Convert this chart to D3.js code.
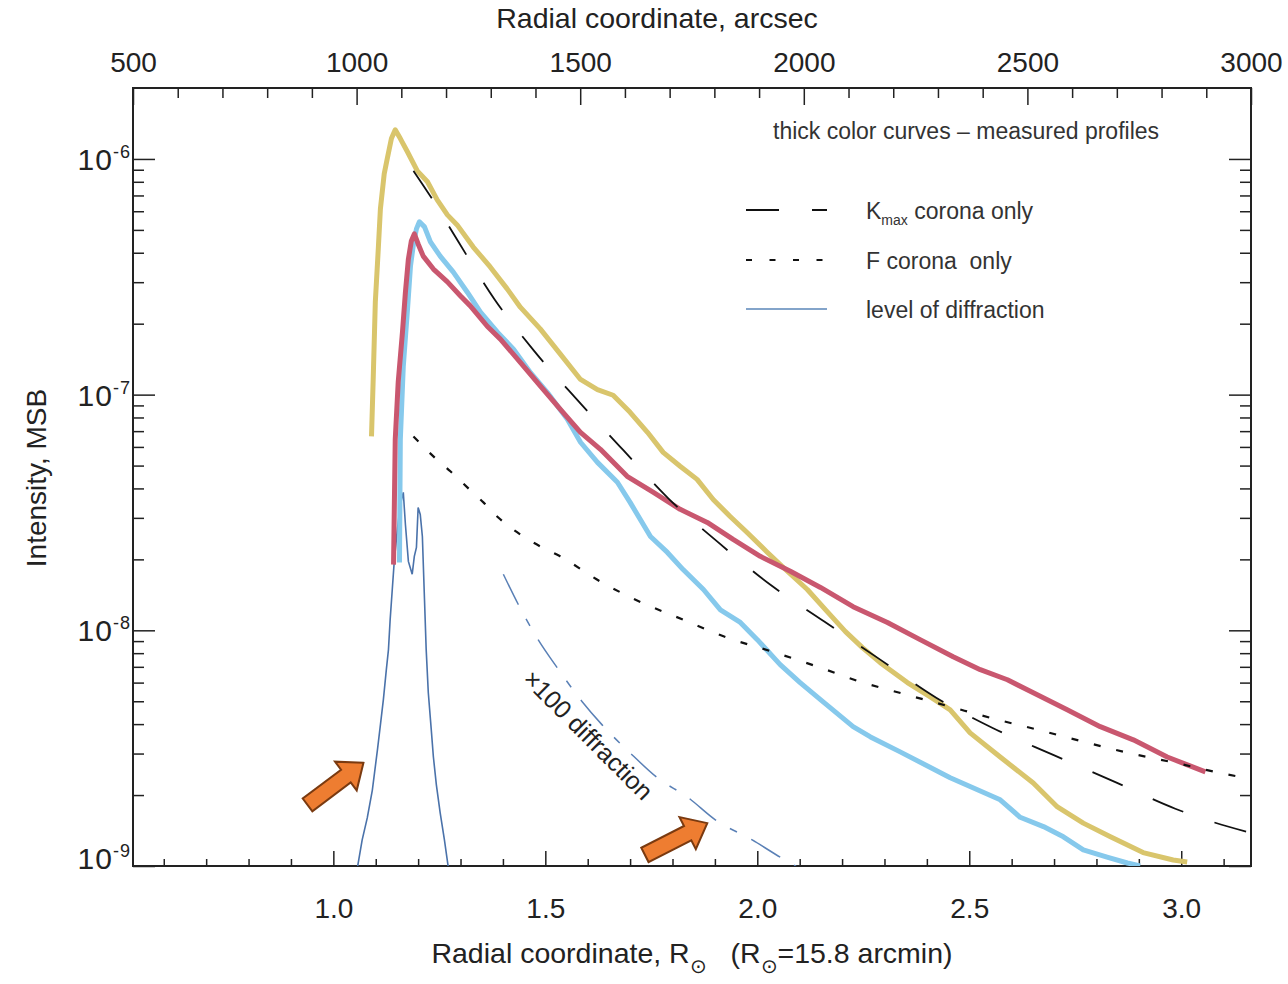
<!DOCTYPE html>
<html>
<head>
<meta charset="utf-8">
<script src="https://d3js.org/d3.v7.min.js"></script>
<style>
html,body{margin:0;padding:0;background:#fff;}
svg text{font-family:"Liberation Sans",Arial,Helvetica,sans-serif;}
</style>
</head>
<body>
<svg id="chart" width="1288" height="984"></svg>
<script>
// ---------------- data ----------------
const arcsecRange = [500, 3000];
const rsunArcsec = 948;             // R_sun = 15.8 arcmin
const intensityRange = [1e-9, 2e-6];
const topTickLabels = [500, 1000, 1500, 2000, 2500, 3000];
const bottomTickLabels = [1.0, 1.5, 2.0, 2.5, 3.0];
const yTickValues = [1e-9, 1e-8, 1e-7, 1e-6];
const yTickExponents = ["-9", "-8", "-7", "-6"];

// measured profiles (thick colour curves)
const yellowR = [1.090,1.094,1.099,1.106,1.111,1.120,1.127,1.137,1.146,1.158,1.175,1.198,1.222,1.245,1.269,1.292,1.330,1.370,1.410,1.441,1.488,1.535,1.583,1.623,1.660,1.700,1.741,1.778,1.818,1.858,1.896,1.936,1.976,2.024,2.071,2.118,2.165,2.208,2.248,2.290,2.354,2.408,2.455,2.502,2.573,2.651,2.708,2.769,2.833,2.910,2.981,3.014];
const yellowI = [6.65e-8,1.16e-7,2.47e-7,4.15e-7,6.14e-7,8.65e-7,1.00e-6,1.22e-6,1.33e-6,1.22e-6,1.07e-6,8.90e-7,8.00e-7,6.70e-7,5.79e-7,5.25e-7,4.23e-7,3.48e-7,2.81e-7,2.35e-7,1.90e-7,1.49e-7,1.16e-7,1.05e-7,9.94e-8,8.41e-8,6.92e-8,5.69e-8,4.97e-8,4.37e-8,3.59e-8,3.04e-8,2.60e-8,2.14e-8,1.78e-8,1.49e-8,1.20e-8,9.87e-9,8.44e-9,7.29e-9,6.00e-9,5.22e-9,4.60e-9,3.67e-9,2.90e-9,2.25e-9,1.78e-9,1.52e-9,1.33e-9,1.14e-9,1.06e-9,1.04e-9];

const redR = [1.142,1.146,1.153,1.163,1.170,1.177,1.184,1.191,1.200,1.212,1.236,1.269,1.300,1.323,1.363,1.394,1.441,1.488,1.535,1.583,1.630,1.693,1.755,1.818,1.882,1.943,2.007,2.078,2.149,2.226,2.307,2.384,2.462,2.526,2.590,2.651,2.731,2.809,2.887,2.967,3.057];
const redI = [1.90e-8,6.46e-8,1.13e-7,1.84e-7,2.72e-7,3.76e-7,4.49e-7,4.81e-7,4.36e-7,3.87e-7,3.41e-7,3.01e-7,2.62e-7,2.38e-7,1.95e-7,1.72e-7,1.37e-7,1.09e-7,8.67e-8,6.92e-8,5.86e-8,4.50e-8,3.85e-8,3.26e-8,2.87e-8,2.43e-8,2.06e-8,1.78e-8,1.52e-8,1.26e-8,1.08e-8,9.13e-9,7.73e-9,6.81e-9,6.17e-9,5.43e-9,4.60e-9,3.90e-9,3.43e-9,2.90e-9,2.51e-9];

const blueR = [1.156,1.158,1.165,1.175,1.182,1.189,1.196,1.203,1.215,1.229,1.252,1.283,1.316,1.347,1.387,1.425,1.465,1.505,1.552,1.583,1.623,1.670,1.700,1.748,1.788,1.825,1.873,1.913,1.960,2.000,2.054,2.101,2.149,2.226,2.267,2.337,2.455,2.573,2.620,2.675,2.722,2.769,2.825,2.873,2.903];
const blueI = [1.94e-8,6.46e-8,1.32e-7,2.31e-7,3.52e-7,4.36e-7,5.05e-7,5.41e-7,5.15e-7,4.45e-7,3.87e-7,3.31e-7,2.72e-7,2.24e-7,1.84e-7,1.56e-7,1.24e-7,1.02e-7,7.86e-8,6.28e-8,5.16e-8,4.25e-8,3.49e-8,2.50e-8,2.14e-8,1.81e-8,1.49e-8,1.22e-8,1.08e-8,9.13e-9,7.15e-9,6.00e-9,5.08e-9,3.90e-9,3.53e-9,3.05e-9,2.37e-9,1.91e-9,1.61e-9,1.47e-9,1.33e-9,1.17e-9,1.09e-9,1.03e-9,1.00e-9];

// level of diffraction
const diffR = [1.057,1.068,1.080,1.092,1.104,1.111,1.118,1.125,1.130,1.134,1.139,1.144,1.151,1.158,1.165,1.170,1.177,1.186,1.191,1.196,1.200,1.205,1.210,1.215,1.219,1.224,1.231,1.236,1.243,1.252,1.262,1.271];
const diffI = [9.9e-10,1.29e-9,1.60e-9,2.10e-9,3.11e-9,3.97e-9,5.08e-9,6.81e-9,8.28e-9,1.11e-8,1.49e-8,2.00e-8,2.68e-8,3.42e-8,3.85e-8,2.81e-8,1.96e-8,1.73e-8,2.06e-8,2.25e-8,3.32e-8,3.10e-8,2.50e-8,1.35e-8,8.28e-9,5.43e-9,3.78e-9,2.90e-9,2.21e-9,1.68e-9,1.29e-9,9.9e-10];

// x100 diffraction
const diff100R = [1.401,1.436,1.483,1.528,1.587,1.634,1.705,1.764,1.837,1.901,1.988,2.054,2.094];
const diff100I = [1.73e-8,1.29e-8,9.13e-9,6.94e-9,4.98e-9,3.97e-9,2.96e-9,2.37e-9,1.95e-9,1.57e-9,1.29e-9,1.09e-9,9.9e-10];

// Kmax corona only
const kR = [1.189,1.233,1.295,1.380,1.474,1.578,1.684,1.790,1.908,2.031,2.158,2.290,2.422,2.554,2.698,2.842,2.986,3.045,3.165];
const kI = [8.90e-7,6.77e-7,4.45e-7,2.54e-7,1.53e-7,9.38e-8,5.81e-8,3.63e-8,2.36e-8,1.56e-8,1.09e-8,7.51e-9,5.18e-9,3.86e-9,2.96e-9,2.28e-9,1.75e-9,1.60e-9,1.38e-9];

// F corona only
const fR = [1.189,1.236,1.276,1.316,1.354,1.389,1.441,1.488,1.535,1.630,1.724,1.825,1.929,2.035,2.142,2.243,2.344,2.455,2.557,2.663,2.769,2.875,2.986,3.092,3.165];
const fI = [6.65e-8,5.47e-8,4.73e-8,4.04e-8,3.49e-8,3.01e-8,2.55e-8,2.27e-8,2.06e-8,1.61e-8,1.32e-8,1.11e-8,9.31e-9,8.12e-9,7.01e-9,6.05e-9,5.38e-9,4.74e-9,4.22e-9,3.78e-9,3.37e-9,3.02e-9,2.74e-9,2.48e-9,2.34e-9];

// annotation arrows: tip position (R, I) + direction (deg)
const arrowTipR = [1.071, 1.882];
const arrowTipI = [2.74e-9, 1.52e-9];
const arrowAngle = [-37, -27];

// ---------------- drawing ----------------
const svg = d3.select("#chart");
const L = 133, R = 1251, T = 88, B = 866;
const FONT = '"Liberation Sans",Arial,Helvetica,sans-serif';
const AX = "#222";

const x = d3.scaleLinear().domain([arcsecRange[0]/rsunArcsec, arcsecRange[1]/rsunArcsec]).range([L, R]);
const xTop = d3.scaleLinear().domain(arcsecRange).range([L, R]);
const y = d3.scaleLog().domain(intensityRange).range([B, T]);

svg.append("rect").attr("width",1288).attr("height",984).attr("fill","#fff");

svg.append("defs").append("clipPath").attr("id","plotClip")
  .append("rect").attr("x",L).attr("y",T).attr("width",R-L).attr("height",B-T);

function styleAxis(g, fs){
  g.select(".domain").remove();
  g.selectAll(".tick line").attr("stroke",AX).attr("stroke-width",1.5);
  g.selectAll(".tick text").attr("fill",AX).style("font-size",fs+"px").style("font-family",FONT);
}

// top axis (arcsec)
const topMinor = d3.range(600, 3000, 100).filter(v => v % 500 !== 0);
svg.append("g").attr("transform",`translate(0,${T})`)
  .call(d3.axisTop(xTop).tickValues(topTickLabels).tickSize(-17).tickPadding(16).tickFormat(d3.format("d")))
  .call(g => styleAxis(g, 28));
svg.append("g").attr("transform",`translate(0,${T})`)
  .call(d3.axisTop(xTop).tickValues(topMinor).tickSize(-10).tickFormat(""))
  .call(g => styleAxis(g, 28));

// bottom axis (R_sun)
const botMinor = d3.range(6, 32).map(v => v/10).filter(v => Math.round(v*10) % 5 !== 0);
svg.append("g").attr("transform",`translate(0,${B})`)
  .call(d3.axisBottom(x).tickValues(bottomTickLabels).tickSize(-15).tickPadding(32).tickFormat(d3.format(".1f")))
  .call(g => styleAxis(g, 28));
svg.append("g").attr("transform",`translate(0,${B})`)
  .call(d3.axisBottom(x).tickValues(botMinor).tickSize(-7).tickFormat(""))
  .call(g => styleAxis(g, 28));

// y axes (log)
const yMinor = [];
[-9,-8,-7,-6].forEach(e => { for (let m = 2; m <= 9; m++){ const v = m*Math.pow(10,e); if (v < intensityRange[1]*0.99) yMinor.push(v);} });
svg.append("g").attr("transform",`translate(${L},0)`)
  .call(d3.axisLeft(y).tickValues(yTickValues).tickSize(-22).tickFormat(""))
  .call(g => styleAxis(g, 28));
svg.append("g").attr("transform",`translate(${L},0)`)
  .call(d3.axisLeft(y).tickValues(yMinor).tickSize(-11).tickFormat(""))
  .call(g => styleAxis(g, 28));
svg.append("g").attr("transform",`translate(${R},0)`)
  .call(d3.axisRight(y).tickValues(yTickValues).tickSize(-22).tickFormat(""))
  .call(g => styleAxis(g, 28));
svg.append("g").attr("transform",`translate(${R},0)`)
  .call(d3.axisRight(y).tickValues(yMinor).tickSize(-11).tickFormat(""))
  .call(g => styleAxis(g, 28));

// y tick labels 10^n
yTickValues.forEach((v, i) => {
  const yy = Math.min(y(v), B - 8);
  const t = svg.append("text").attr("x", 131).attr("y", yy + 11)
    .attr("text-anchor","end").attr("fill",AX).style("font-size","30px").style("letter-spacing","1px");
  t.append("tspan").text("10");
  t.append("tspan").attr("dy",-12).style("font-size","18px").text(yTickExponents[i]);
});

// frame
svg.append("rect").attr("x",L).attr("y",T).attr("width",R-L).attr("height",B-T)
  .attr("fill","none").attr("stroke",AX).attr("stroke-width",2);

// axis titles
svg.append("text").attr("x",657).attr("y",28).attr("text-anchor","middle")
  .attr("fill",AX).style("font-size","28.5px").text("Radial coordinate, arcsec");

svg.append("text").attr("transform","translate(46,478) rotate(-90)").attr("text-anchor","middle")
  .attr("fill",AX).style("font-size","28px").text("Intensity, MSB");

const bt = svg.append("text").attr("x",692).attr("y",963).attr("text-anchor","middle")
  .attr("fill",AX).style("font-size","28.5px").style("white-space","pre");
bt.append("tspan").text("Radial coordinate, R");
bt.append("tspan").attr("dy",10).style("font-size","20px").text("\u2299");
bt.append("tspan").attr("dy",-10).text("   (R");
bt.append("tspan").attr("dy",10).style("font-size","20px").text("\u2299");
bt.append("tspan").attr("dy",-10).text("=15.8 arcmin)");

// curves
const plot = svg.append("g").attr("clip-path","url(#plotClip)");
const zipRI = (rs, is) => rs.map((r, i) => [r, is[i]]);
const line = d3.line().x(d => x(d[0])).y(d => y(d[1]));
const smooth = d3.line().x(d => x(d[0])).y(d => y(d[1])).curve(d3.curveMonotoneX);

const DIFF_COL = "#4a72aa";
plot.append("path").datum(zipRI(diffR, diffI)).attr("d", line)
  .attr("fill","none").attr("stroke",DIFF_COL).attr("stroke-width",1.6);
plot.append("path").datum(zipRI(diff100R, diff100I)).attr("d", smooth)
  .attr("fill","none").attr("stroke","#5a80b6").attr("stroke-width",1.5)
  .attr("stroke-dasharray","34,16,8,16");

const thick = [
  {r: yellowR, i: yellowI, c: "#d9c56c"},
  {r: blueR,   i: blueI,   c: "#86c9ec"},
  {r: redR,    i: redI,    c: "#c9576f"}
];
thick.forEach(s => {
  plot.append("path").datum(zipRI(s.r, s.i)).attr("d", line)
    .attr("fill","none").attr("stroke", s.c).attr("stroke-width",5)
    .attr("stroke-linejoin","round").attr("stroke-linecap","butt");
});

plot.append("path").datum(zipRI(kR, kI)).attr("d", smooth)
  .attr("fill","none").attr("stroke","#111").attr("stroke-width",1.8)
  .attr("stroke-dasharray","33,33");
plot.append("path").datum(zipRI(fR, fI)).attr("d", smooth)
  .attr("fill","none").attr("stroke","#111").attr("stroke-width",2.2)
  .attr("stroke-dasharray","7,16");

// x100 diffraction label
{
  const cx = x(1.601), cy = y(3.6e-9);
  svg.append("text").attr("transform",`translate(${cx},${cy}) rotate(45)`)
    .attr("text-anchor","middle").attr("dy","0.35em").attr("fill",AX)
    .style("font-size","25px").text("\u00d7100 diffraction");
}

// arrows
arrowTipR.forEach((r, i) => {
  const tx = x(r), ty = y(arrowTipI[i]);
  const pts = [[0,0],[-22,-18],[-22,-8],[-70,-8],[-70,8],[-22,8],[-22,18]];
  svg.append("polygon").attr("points", pts.map(p => p.join(",")).join(" "))
    .attr("transform",`translate(${tx},${ty}) rotate(${arrowAngle[i]})`)
    .attr("fill","#ee7d31").attr("stroke","#7a3a10").attr("stroke-width",2).attr("stroke-linejoin","miter");
});

// legend
const lg = svg.append("g").style("font-size","23px").attr("fill","#333");
lg.append("text").attr("x",773).attr("y",139).text("thick color curves \u2013 measured profiles");
lg.append("line").attr("x1",746).attr("x2",827).attr("y1",210).attr("y2",210)
  .attr("stroke","#111").attr("stroke-width",1.8).attr("stroke-dasharray","33,33");
const kt = lg.append("text").attr("x",866).attr("y",219);
kt.append("tspan").text("K");
kt.append("tspan").attr("dy",6).style("font-size","14px").text("max");
kt.append("tspan").attr("dy",-6).text(" corona only");
lg.append("line").attr("x1",746).attr("x2",827).attr("y1",260).attr("y2",260)
  .attr("stroke","#111").attr("stroke-width",2).attr("stroke-dasharray","6,17.5");
lg.append("text").attr("x",866).attr("y",269).style("white-space","pre").text("F corona  only");
lg.append("line").attr("x1",746).attr("x2",827).attr("y1",309).attr("y2",309)
  .attr("stroke","#5a86b8").attr("stroke-width",1.6);
lg.append("text").attr("x",866).attr("y",318).text("level of diffraction");
</script>
</body>
</html>
